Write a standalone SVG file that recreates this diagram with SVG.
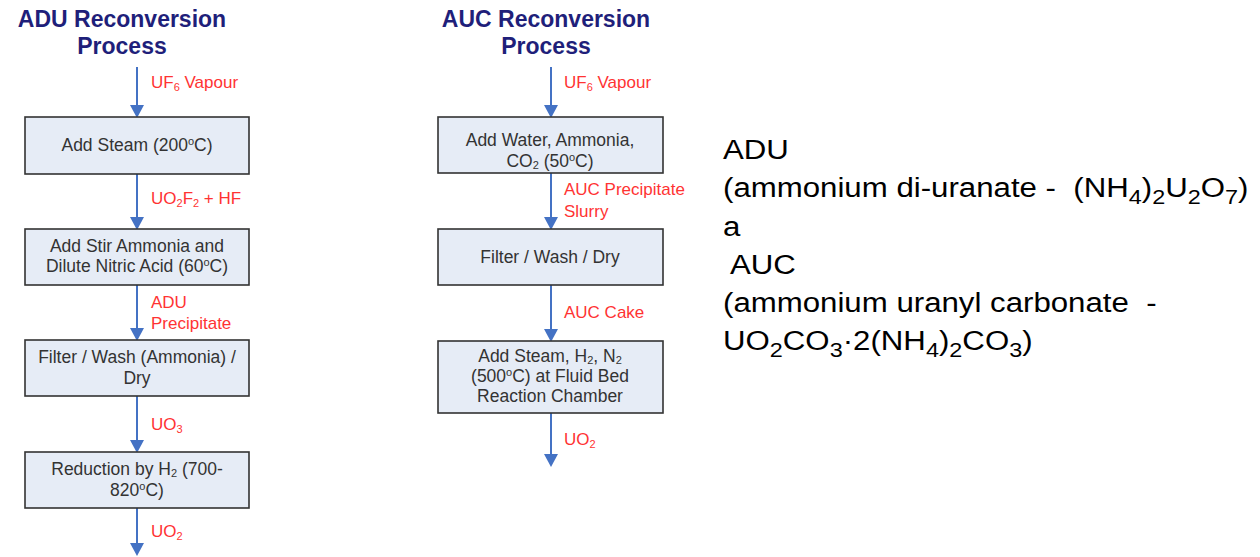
<svg xmlns="http://www.w3.org/2000/svg" width="1260" height="557" viewBox="0 0 1260 557">
<defs>
<style>
.title{font-family:"Liberation Sans",Arial,sans-serif;font-weight:bold;font-size:23px;fill:#1f1f7a;text-anchor:middle}
.box{fill:#e6ecf6;stroke:#333;stroke-width:1.6}
.bt{font-family:"Liberation Sans",Arial,sans-serif;font-size:17.5px;fill:#333;text-anchor:middle}
.lab{font-family:"Liberation Sans",Arial,sans-serif;font-size:17px;fill:#ff3333}
.con{stroke:#4472c4;stroke-width:2;fill:none}
.head{fill:#4472c4}
.sub{font-size:11px}
.big{font-family:"Liberation Sans",Arial,sans-serif;font-size:28px;fill:#000;white-space:pre}
.bsub{font-size:21px}
</style>
</defs>
<g id="titles">
<text class="title" x="122" y="27">ADU Reconversion</text>
<text class="title" x="122" y="54">Process</text>
<text class="title" x="546" y="27">AUC Reconversion</text>
<text class="title" x="546" y="54">Process</text>
</g>
<g id="connectors">
<path class="con" d="M137,67 V106"/>
<path class="con" d="M137,174 V218"/>
<path class="con" d="M137,285 V329"/>
<path class="con" d="M137,396 V441"/>
<path class="con" d="M137,508 V545"/>
<path class="con" d="M551,67 V106"/>
<path class="con" d="M551,173 V218"/>
<path class="con" d="M551,285 V330"/>
<path class="con" d="M551,413 V456"/>
<path class="head" d="M130,105 L144,105 L137,118 Z"/>
<path class="head" d="M130,217 L144,217 L137,230 Z"/>
<path class="head" d="M130,328 L144,328 L137,341 Z"/>
<path class="head" d="M130,440 L144,440 L137,453 Z"/>
<path class="head" d="M130,543 L144,543 L137,556 Z"/>
<path class="head" d="M544,105 L558,105 L551,118 Z"/>
<path class="head" d="M544,217 L558,217 L551,230 Z"/>
<path class="head" d="M544,329 L558,329 L551,342 Z"/>
<path class="head" d="M544,454 L558,454 L551,467 Z"/>
</g>
<g id="labels">
<text class="lab" x="151" y="88">UF<tspan class="sub" baseline-shift="-3">6</tspan> Vapour</text>
<text class="lab" x="151" y="204">UO<tspan class="sub" baseline-shift="-3">2</tspan>F<tspan class="sub" baseline-shift="-3">2</tspan> + HF</text>
<text class="lab" x="151" y="308">ADU</text>
<text class="lab" x="151" y="329">Precipitate</text>
<text class="lab" x="151" y="430">UO<tspan class="sub" baseline-shift="-3">3</tspan></text>
<text class="lab" x="151" y="537">UO<tspan class="sub" baseline-shift="-3">2</tspan></text>
<text class="lab" x="564" y="88">UF<tspan class="sub" baseline-shift="-3">6</tspan> Vapour</text>
<text class="lab" x="564" y="195">AUC Precipitate</text>
<text class="lab" x="564" y="217">Slurry</text>
<text class="lab" x="564" y="318">AUC Cake</text>
<text class="lab" x="564" y="445">UO<tspan class="sub" baseline-shift="-3">2</tspan></text>
</g>
<g id="adu1"><rect class="box" x="25" y="117" width="224" height="57"/>
<text class="bt" x="137" y="151">Add Steam (200<tspan class="sub" baseline-shift="6">o</tspan>C)</text></g>
<g id="adu2"><rect class="box" x="25" y="229" width="224" height="56"/>
<text class="bt" x="137" y="252">Add Stir Ammonia and</text>
<text class="bt" x="137" y="272">Dilute Nitric Acid (60<tspan class="sub" baseline-shift="6">o</tspan>C)</text></g>
<g id="adu3"><rect class="box" x="25" y="340" width="224" height="56"/>
<text class="bt" x="137" y="363">Filter / Wash (Ammonia) /</text>
<text class="bt" x="137" y="384">Dry</text></g>
<g id="adu4"><rect class="box" x="25" y="452" width="224" height="56"/>
<text class="bt" x="137" y="475">Reduction by H<tspan class="sub" baseline-shift="-2">2</tspan> (700-</text>
<text class="bt" x="137" y="496">820<tspan class="sub" baseline-shift="6">o</tspan>C)</text></g>
<g id="auc1"><rect class="box" x="438" y="117" width="225" height="56"/>
<text class="bt" x="550" y="146">Add Water, Ammonia,</text>
<text class="bt" x="550" y="167">CO<tspan class="sub" baseline-shift="-2">2</tspan> (50<tspan class="sub" baseline-shift="6">o</tspan>C)</text></g>
<g id="auc2"><rect class="box" x="438" y="229" width="225" height="56"/>
<text class="bt" x="550" y="263">Filter / Wash / Dry</text></g>
<g id="auc3"><rect class="box" x="438" y="341" width="225" height="72"/>
<text class="bt" x="550" y="362">Add Steam, H<tspan class="sub" baseline-shift="-2">2</tspan>, N<tspan class="sub" baseline-shift="-2">2</tspan></text>
<text class="bt" x="550" y="382">(500<tspan class="sub" baseline-shift="6">o</tspan>C) at Fluid Bed</text>
<text class="bt" x="550" y="402">Reaction Chamber</text></g>
<g id="notes" transform="translate(723,0) scale(1.115,1) translate(-723,0)">
<text class="big" x="723" y="159">ADU</text>
<text class="big" x="723" y="197">(ammonium di-uranate -  (NH<tspan class="bsub" baseline-shift="-7">4</tspan>)<tspan class="bsub" baseline-shift="-7">2</tspan>U<tspan class="bsub" baseline-shift="-7">2</tspan>O<tspan class="bsub" baseline-shift="-7">7</tspan>)</text>
<text class="big" x="723" y="236">a</text>
<text class="big" x="723" y="274"> AUC</text>
<text class="big" x="723" y="312">(ammonium uranyl carbonate  -</text>
<text class="big" x="723" y="350">UO<tspan class="bsub" baseline-shift="-7">2</tspan>CO<tspan class="bsub" baseline-shift="-7">3</tspan>·2(NH<tspan class="bsub" baseline-shift="-7">4</tspan>)<tspan class="bsub" baseline-shift="-7">2</tspan>CO<tspan class="bsub" baseline-shift="-7">3</tspan>)</text>
</g>
</svg>
